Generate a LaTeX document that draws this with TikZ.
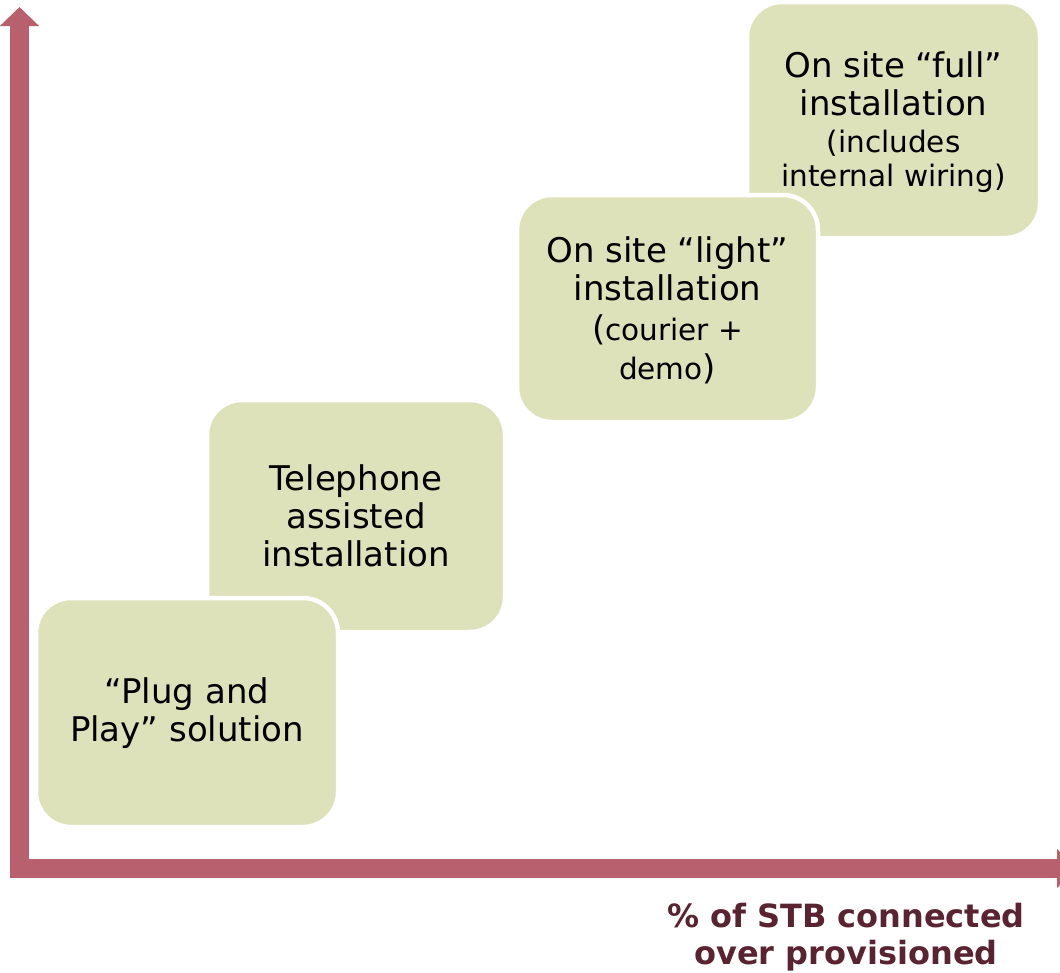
\documentclass[tikz,border=0pt]{standalone}
\usepackage{fontspec}
\setmainfont{DejaVu Sans}
\usetikzlibrary{arrows.meta}
\definecolor{axisrose}{HTML}{B9606F}
\definecolor{stepfill}{HTML}{DDE2BA}
\definecolor{labelwine}{HTML}{5A2332}
\newcommand{\bigtxt}{\fontsize{34}{38}\selectfont}
\newcommand{\smalltxt}{\fontsize{29.5}{34}\selectfont}
\tikzset{
  stepbox/.style={fill=stepfill, draw=white, line width=4.5pt, rounded corners=35pt},
  steptext/.style={align=center, font=\bigtxt, text=black, inner sep=0pt},
  axis/.style={draw=axisrose, line width=18.5pt, line join=miter,
    {Triangle[width=38pt,length=19pt]}-{Triangle[width=38pt,length=19pt]}},
}
\begin{document}
\begin{tikzpicture}[x=1pt,y=-1pt]
\useasboundingbox (0,0) rectangle (1060,972);
\clip (0,0) rectangle (1060,972);

% axes
\coordinate (ytip) at (19.5,7);
\coordinate (orig) at (19.5,868.5);
\coordinate (xtip) at (1076,868.5);
\draw[axis] (ytip) -- (orig) -- (xtip);

% steps, highest first so that lower steps overlap them
\draw[stepbox] (747,2) rectangle (1040,238);
\node[steptext] (full) at (893.5,122)
  {On site “full”\\ installation\\[-1pt] {\smalltxt (includes}\\[-4pt] {\smalltxt internal wiring)}};

\draw[stepbox] (517,195) rectangle (818,422);
\node[steptext] (light) at (667.5,310)
  {On site “light”\\ installation\\[2pt] ({\smalltxt courier +}\\[1pt] {\smalltxt demo})};

\draw[stepbox] (207,400) rectangle (505,632);
\node[steptext] (phone) at (356,516)
  {Telephone\\ assisted\\ installation};

\draw[stepbox] (36,598) rectangle (338,827);
\node[steptext] (plug) at (187,713)
  {“Plug and\\ Play” solution};

% axis label
\node[align=center, font=\bfseries\fontsize{32}{37}\selectfont, text=labelwine, inner sep=0pt]
  (xlabel) at (846,937) {\% of STB connected\\ over provisioned};
\end{tikzpicture}
\end{document}
